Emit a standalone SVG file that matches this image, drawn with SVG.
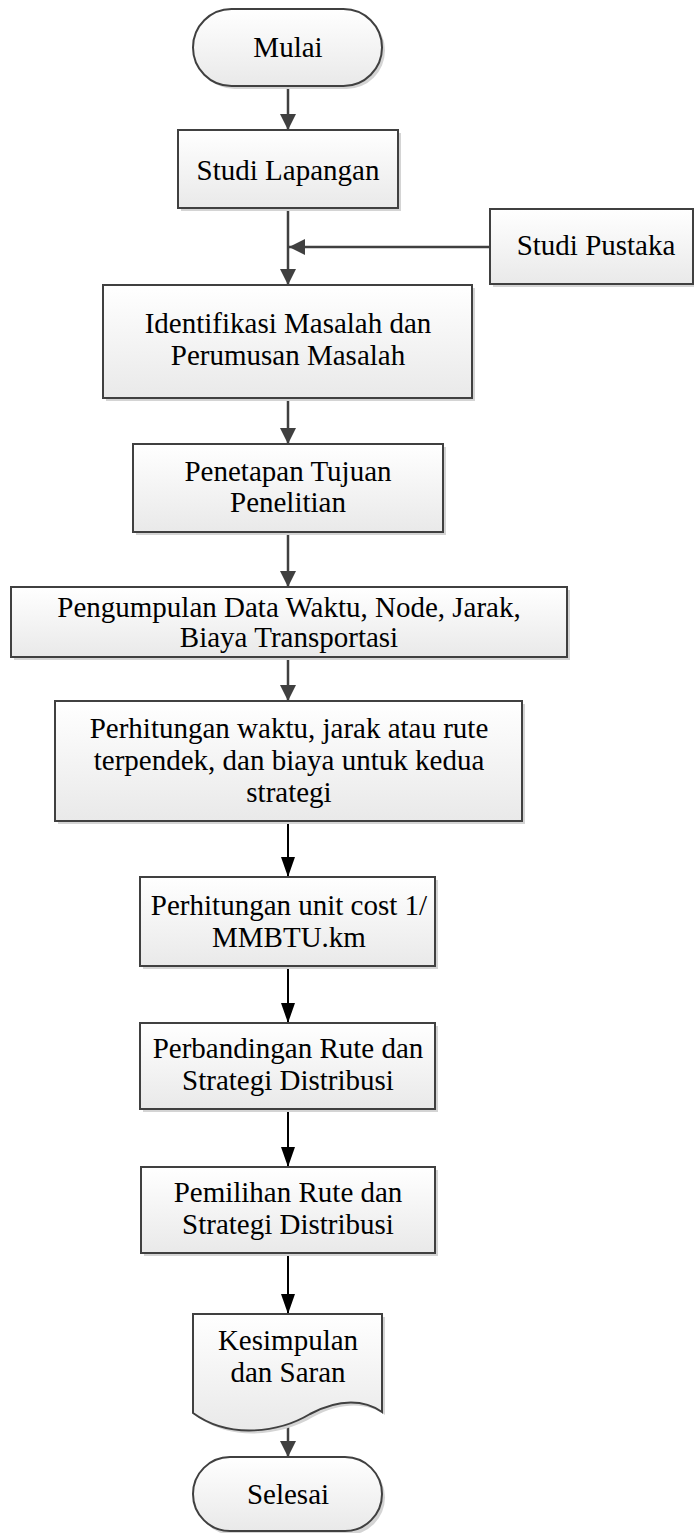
<svg xmlns="http://www.w3.org/2000/svg" width="694" height="1533" viewBox="0 0 694 1533">
<style>
.t{font-family:"Liberation Serif","Times New Roman",serif;font-size:29px;fill:#000;text-anchor:middle}
.box{fill:url(#g);stroke:#404040;stroke-width:2}
.sh{fill:#d4d4d4}
.cg{fill:none;stroke:#404040;stroke-width:2.5}
.cb{fill:none;stroke:#000;stroke-width:2}
</style>
<defs>
<linearGradient id="g" x1="0" y1="0" x2="0" y2="1">
<stop offset="0" stop-color="#ffffff"/>
<stop offset="1" stop-color="#e9e9e9"/>
</linearGradient>
<marker id="ag" viewBox="0 0 16 16" markerWidth="16" markerHeight="16" refX="16" refY="8" orient="auto" markerUnits="userSpaceOnUse">
<path d="M0,0 L16,8 L0,16 z" fill="#404040"/>
</marker>
<marker id="ab" viewBox="0 0 20 14" markerWidth="20" markerHeight="14" refX="20" refY="7" orient="auto" markerUnits="userSpaceOnUse">
<path d="M0,0 L20,7 L0,14 z" fill="#000"/>
</marker>
</defs>
<rect width="694" height="1533" fill="#fff"/>

<g id="connectors">
<line class="cg" x1="288" y1="86" x2="288" y2="130" marker-end="url(#ag)"/>
<line class="cg" x1="288" y1="208" x2="288" y2="285" marker-end="url(#ag)"/>
<line class="cg" x1="490" y1="247" x2="289" y2="247" marker-end="url(#ag)"/>
<line class="cg" x1="288" y1="398" x2="288" y2="444" marker-end="url(#ag)"/>
<line class="cg" x1="288" y1="532" x2="288" y2="587" marker-end="url(#ag)"/>
<line class="cg" x1="288" y1="657" x2="288" y2="701" marker-end="url(#ag)"/>
<line class="cb" x1="288" y1="821" x2="288" y2="877" marker-end="url(#ab)"/>
<line class="cb" x1="288" y1="966" x2="288" y2="1023" marker-end="url(#ab)"/>
<line class="cb" x1="288" y1="1109" x2="288" y2="1167" marker-end="url(#ab)"/>
<line class="cb" x1="288" y1="1253" x2="288" y2="1314" marker-end="url(#ab)"/>
<line class="cg" x1="288" y1="1426" x2="288" y2="1457" marker-end="url(#ag)"/>
</g>

<g id="mulai">
<rect class="sh" x="196" y="12" width="189" height="77" rx="38.5"/>
<rect class="box" x="193" y="9" width="189" height="77" rx="38.5"/>
<text class="t" x="288" y="57">Mulai</text>
</g>

<g id="studi-lapangan">
<rect class="sh" x="181" y="133" width="220" height="78"/>
<rect class="box" x="178" y="130" width="220" height="78"/>
<text class="t" x="288" y="180">Studi Lapangan</text>
</g>

<g id="studi-pustaka">
<rect class="sh" x="493" y="212" width="203" height="75"/>
<rect class="box" x="490" y="209" width="203" height="75"/>
<text class="t" x="596" y="255">Studi Pustaka</text>
</g>

<g id="identifikasi">
<rect class="sh" x="106" y="288" width="369" height="113"/>
<rect class="box" x="103" y="285" width="369" height="113"/>
<text class="t" x="288" y="333">Identifikasi Masalah dan</text>
<text class="t" x="288" y="365">Perumusan Masalah</text>
</g>

<g id="penetapan">
<rect class="sh" x="136" y="447" width="310" height="88"/>
<rect class="box" x="133" y="444" width="310" height="88"/>
<text class="t" x="288" y="481">Penetapan Tujuan</text>
<text class="t" x="288" y="512">Penelitian</text>
</g>

<g id="pengumpulan">
<rect class="sh" x="14" y="590" width="556" height="70"/>
<rect class="box" x="11" y="587" width="556" height="70"/>
<text class="t" x="289" y="617">Pengumpulan Data Waktu, Node, Jarak,</text>
<text class="t" x="289" y="647">Biaya Transportasi</text>
</g>

<g id="perhitungan-waktu">
<rect class="sh" x="58" y="704" width="467" height="120"/>
<rect class="box" x="55" y="701" width="467" height="120"/>
<text class="t" x="289" y="738">Perhitungan waktu, jarak atau rute</text>
<text class="t" x="289" y="770">terpendek, dan biaya untuk kedua</text>
<text class="t" x="289" y="802">strategi</text>
</g>

<g id="unit-cost">
<rect class="sh" x="143" y="880" width="295" height="89"/>
<rect class="box" x="140" y="877" width="295" height="89"/>
<text class="t" x="289" y="915">Perhitungan unit cost 1/</text>
<text class="t" x="289" y="947">MMBTU.km</text>
</g>

<g id="perbandingan">
<rect class="sh" x="143" y="1026" width="295" height="86"/>
<rect class="box" x="140" y="1023" width="295" height="86"/>
<text class="t" x="288" y="1058">Perbandingan Rute dan</text>
<text class="t" x="288" y="1090">Strategi Distribusi</text>
</g>

<g id="pemilihan">
<rect class="sh" x="144" y="1170" width="294" height="86"/>
<rect class="box" x="141" y="1167" width="294" height="86"/>
<text class="t" x="288" y="1202">Pemilihan Rute dan</text>
<text class="t" x="288" y="1234">Strategi Distribusi</text>
</g>

<g id="kesimpulan">
<path class="sh" d="M196,1317 H385 V1415 C368,1403 343,1401 313,1417 C283,1435 233,1443 196,1416 Z"/>
<path class="box" d="M193,1314 H382 V1412 C365,1400 340,1398 310,1414 C280,1432 230,1440 193,1413 Z"/>
<text class="t" x="288" y="1350">Kesimpulan</text>
<text class="t" x="288" y="1382">dan Saran</text>
</g>

<g id="selesai">
<rect class="sh" x="196" y="1460" width="189" height="75" rx="37.5"/>
<rect class="box" x="193" y="1457" width="189" height="74" rx="37"/>
<text class="t" x="288" y="1504">Selesai</text>
</g>
</svg>
